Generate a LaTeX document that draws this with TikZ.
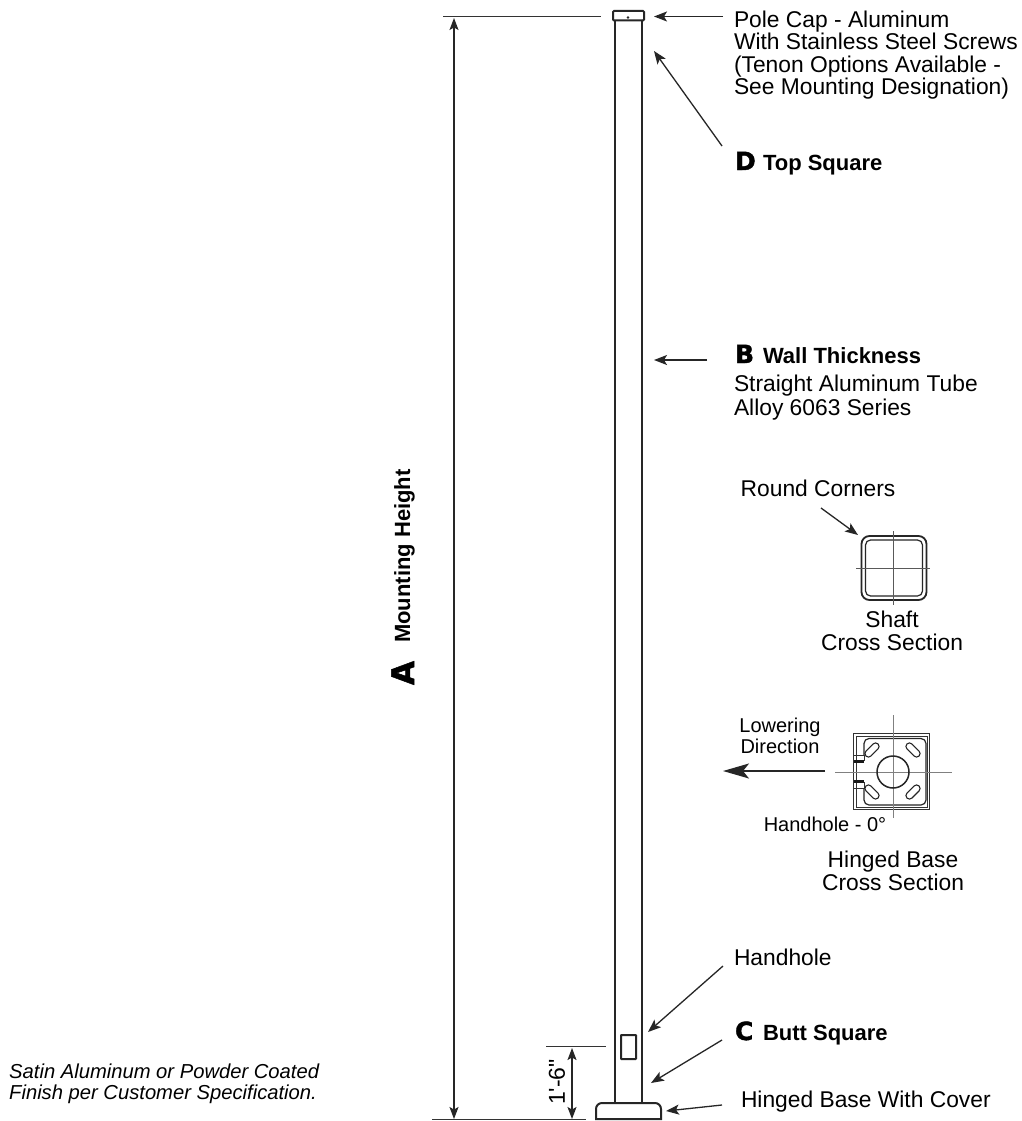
\documentclass[tikz,border=0pt]{standalone}
\usepackage{fontspec}
\setmainfont{Liberation Sans}
\newfontfamily\plainfont{Liberation Sans}
\newfontfamily\badgefont[FakeBold=1.6]{DejaVu Sans Bold}
\usetikzlibrary{arrows.meta}
\tikzset{x=1pt,y=-1pt,
 thin line/.style={line width=1.2pt,draw=black!80},
 pole/.style={line width=2pt,draw=black!85},
 lead/.style={line width=1.3pt,draw=black!85,-{Stealth[length=13pt,width=10pt,inset=3pt]}},
 dimline/.style={line width=1.3pt,draw=black!85,{Stealth[length=12pt,width=9pt,inset=2.5pt]}-{Stealth[length=12pt,width=9pt,inset=2.5pt]}},
 center line/.style={line width=.8pt,draw=black!65},
 lbl/.style={inner sep=0pt,outer sep=0pt,anchor=base west,align=left,font=\fontsize{22.8}{22.6}\selectfont},
 clbl/.style={inner sep=0pt,outer sep=0pt,align=center,font=\fontsize{22.8}{23.5}\selectfont},
 small lbl/.style={inner sep=0pt,outer sep=0pt,align=center,font=\fontsize{20}{21}\selectfont},
 head lbl/.style={inner sep=0pt,outer sep=0pt,anchor=base west,font=\fontsize{22}{22}\selectfont\bfseries},
 badge/.style={inner sep=0pt,outer sep=0pt,anchor=base west,font=\fontsize{25}{25}\badgefont},
}
\begin{document}
\begin{tikzpicture}
\useasboundingbox[fill=white] (0,0) rectangle (1021,1121);
% pole
\coordinate (pTL) at (614.5,20); \coordinate (pBL) at (614.5,1103);
\coordinate (pTR) at (642,20); \coordinate (pBR) at (642,1103);
\draw[pole] (pTL) -- (pBL) (pTR) -- (pBR);
\draw[pole,rounded corners=1pt] (613,11) rectangle (644,20.5);
\fill[black!85] (628,17.5) circle (1.4);
\draw[pole,rounded corners=.5pt] (621,1035) rectangle (636,1059);
\draw[pole] (596,1119) -- (596,1109) [rounded corners=6pt] -- (596,1103) -- (661,1103) [sharp corners] -- (661,1119) -- cycle;
% extension lines
\coordinate (extTopA) at (443,16.5); \coordinate (extTopB) at (601,16.5);
\coordinate (extBotA) at (432,1119.5); \coordinate (extBotB) at (586,1119.5);
\coordinate (extHhA) at (546,1046.5); \coordinate (extHhB) at (606,1046.5);
\draw[thin line] (extTopA) -- (extTopB);
\draw[thin line] (extBotA) -- (extBotB);
\draw[thin line] (extHhA) -- (extHhB);
\coordinate (dimAt) at (454,18); \coordinate (dimAb) at (454,1119);
\draw[dimline] (dimAt) -- (dimAb);
\coordinate (dimHt) at (572,1048); \coordinate (dimHb) at (572,1119);
\draw[dimline] (dimHt) -- (dimHb);
\node[inner sep=0pt,rotate=90,font=\fontsize{23}{23}\plainfont] (h18) at (557,1082) {1'-6"};
% side label
\node[inner sep=0pt,rotate=90,anchor=base west,font=\fontsize{22}{22}\selectfont\bfseries] (mh) at (410,643) {Mounting Height};
\node[badge,rotate=90,font=\fontsize{31}{31}\badgefont] (ba) at (414,685) {A};
% callouts
\node[lbl] (cap) at (734,95) {Pole Cap - Aluminum\\With Stainless Steel Screws\\(Tenon Options Available -\\See Mounting Designation)};
\coordinate (capTip) at (654,16.5); \coordinate (capTail) at (723,16.5);
\draw[lead] (capTail) -- (capTip);
\node[badge] (bd) at (735,170) {D};
\node[head lbl] (top) at (763,170) {Top Square};
\coordinate (dTail) at (722,146); \coordinate (dTip) at (654,51);
\draw[lead] (dTail) -- (dTip);
\node[badge] (bb) at (735,363) {B};
\node[head lbl] (wall) at (763,363) {Wall Thickness};
\node[lbl,font=\fontsize{22.8}{24}\selectfont] (alloy) at (734,415) {Straight Aluminum Tube\\Alloy 6063 Series};
\coordinate (bTail) at (707,360); \coordinate (bTip) at (654,360);
\draw[lead] (bTail) -- (bTip);
% shaft section
\node[clbl] (rc) at (818,488) {Round Corners};
\coordinate (rcTail) at (821,508); \coordinate (rcTip) at (858,535);
\draw[lead] (rcTail) -- (rcTip);
\draw[line width=1.8pt,draw=black!85,rounded corners=8pt] (861.5,536) rectangle (926.5,600);
\draw[line width=1.2pt,draw=black!85,rounded corners=5pt] (865.5,540) rectangle (922.5,596);
\draw[center line] (893,531) -- (893,605) (856,568) -- (930,568);
\node[clbl] (shaft) at (892,631) {Shaft\\Cross Section};
% hinged base section
\draw[line width=1.4pt,draw=black!80] (853.5,733.5) rectangle (929.5,809.5);
\draw[line width=1pt,draw=black!80] (856,736) rectangle (927,807);
\draw[line width=1.2pt,draw=black!85,rounded corners=5pt] (864,755) -- (864,738.5) -- (926,738.5) -- (926,805) -- (864,805) -- (864,788);
\draw[line width=3pt,draw=black!90] (854,761) -- (864,761) (854,781.5) -- (864,781.5);
\draw[line width=1pt,draw=black!80] (854,755) -- (864,755) -- (864,761) (854,788) -- (864,788) -- (864,781.5);
\draw[center line,line width=1pt,draw=black!50] (893,715) -- (893,818) (835,772) -- (952,772);
\draw[line width=1.5pt,draw=black!85] (893,772) circle (16);
\foreach \cx/\cy/\a in {872/750/45,913/750/135,872/792/135,913/792/45}{
  \draw[line width=1.1pt,draw=black!85,rotate around={\a:(\cx,\cy)},rounded corners=3.4pt] (\cx-8.5,\cy-3.5) rectangle (\cx+8.5,\cy+3.5);
}
\node[small lbl] (low) at (780,736) {Lowering\\Direction};
\coordinate (lowTail) at (825,771); \coordinate (lowTip) at (723,771);
\draw[line width=1.5pt,draw=black!85,-{Stealth[length=26pt,width=15pt,inset=6pt]}] (lowTail) -- (lowTip);
\node[small lbl] (hh0) at (825,824) {Handhole - 0°};
\node[clbl] (hbs) at (893,871) {Hinged Base\\Cross Section};
% bottom callouts
\node[lbl] (hh) at (734,965) {Handhole};
\coordinate (hhTail) at (723,966); \coordinate (hhTip) at (648,1032);
\draw[lead] (hhTail) -- (hhTip);
\node[badge] (bc) at (735,1040) {C};
\node[head lbl] (butt) at (763,1040) {Butt Square};
\coordinate (cTail) at (722,1040); \coordinate (cTip) at (651,1083);
\draw[lead] (cTail) -- (cTip);
\node[lbl] (base) at (741,1107) {Hinged Base With Cover};
\coordinate (bsTail) at (722,1105); \coordinate (bsTip) at (666,1111);
\draw[lead] (bsTail) -- (bsTip);
\node[inner sep=0pt,anchor=base west,align=left,font=\fontsize{20.2}{21}\selectfont\itshape] (fin) at (9,1099) {Satin Aluminum or Powder Coated\\Finish per Customer Specification.};
\end{tikzpicture}
\end{document}
